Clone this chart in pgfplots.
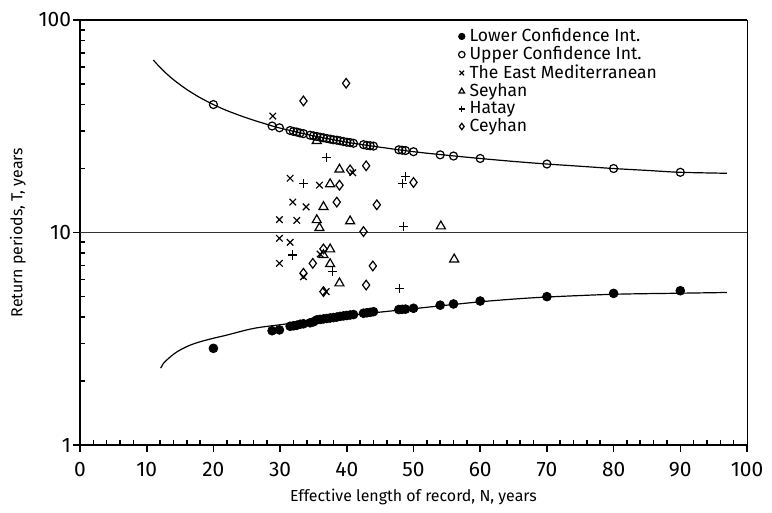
\documentclass[border=0pt]{standalone}
\usepackage{pgfplots}
\pgfplotsset{compat=1.18}
\usepackage{fontspec}
\setmainfont{Fira Sans}
\begin{document}
\begin{tikzpicture}
\useasboundingbox (-40bp,-34bp) rectangle (346bp,222.5bp);
\begin{axis}[
  at={(0,0)}, anchor=south west,
  scale only axis, width=333.5bp, height=212.5bp,
  xmin=0, xmax=100, ymin=1, ymax=100, ymode=log,
  xtick={0,10,...,100}, minor x tick num=4,
  ytick={1,10,100}, yticklabels={1,10,100},
  axis y line*=left, axis x line*=box,
  xtick pos=bottom,
  axis line style={line width=1.1bp},
  tick style={line width=0.8bp, black},
  tick align=inside, major tick length=-3.5bp, minor tick length=2.5bp,
  /pgf/number format/assume math mode=true,
  tick label style={font=\fontsize{10.5}{11}\selectfont},
  xticklabel style={yshift=-5bp},
  yticklabel style={xshift=-1bp},
  label style={font=\fontsize{8}{9}\selectfont},
  xlabel={Effective length of record, N, years},
  ylabel={Return periods, T, years},
  xlabel style={at={(axis description cs:0.5,-0.122)}, anchor=center},
  ylabel style={at={(axis description cs:-0.093,0.5)}, anchor=center},
  legend style={at={(rel axis cs:0.567,0.985)}, anchor=north west, draw=none, fill=none,
    font=\fontsize{8.8}{9}\selectfont, row sep=-0.6bp, column sep=1.5bp, inner sep=0pt,
    nodes={inner sep=0.8bp}},
  legend cell align=left,
  legend image code/.code={\draw[#1, mark size=1.6bp] plot coordinates {(0,0)};},
  after end axis/.code={\draw[line width=0.5bp] (rel axis cs:1,0) -- (rel axis cs:1,1);},
]
% Lower confidence points
\addplot[only marks, mark=*, mark size=2.2bp, black] coordinates {
(20,2.85)(28.8,3.45)(29.9,3.48)(31.5,3.62)(32,3.64)(32.5,3.66)(33,3.70)(33.5,3.72)
(34.5,3.76)(35,3.80)(35.5,3.88)(36,3.90)(36.5,3.92)(37,3.94)(37.5,3.96)(38,3.98)
(38.5,4.00)(39,4.03)(39.5,4.05)(40,4.07)(40.5,4.09)(41,4.11)(42.5,4.17)(43,4.19)
(43.5,4.21)(44,4.24)(47.8,4.34)(48.3,4.35)(48.8,4.36)(50,4.40)(54,4.55)(56,4.61)
(60,4.76)(70,4.99)(80,5.17)(90,5.32)};
\addlegendentry{Lower Confidence Int.}
% Upper confidence points
\addplot[only marks, mark=o, mark size=2bp, black, line width=0.6bp] coordinates {
(20,40.0)(28.8,31.7)(29.9,31.1)(31.5,30.2)(32,29.9)(32.5,29.7)(33,29.4)(33.5,29.2)
(34.5,28.7)(35,28.5)(35.5,28.3)(36,28.1)(36.5,27.9)(37,27.7)(37.5,27.5)(38,27.3)
(38.5,27.2)(39,27.0)(39.5,26.8)(40,26.6)(40.5,26.5)(41,26.3)(42.5,25.9)(43,25.7)
(43.5,25.6)(44,25.5)(47.8,24.5)(48.3,24.4)(48.8,24.3)(50,24.0)(54,23.2)(56,22.9)
(60,22.3)(70,21.0)(80,20.0)(90,19.2)};
\addlegendentry{Upper Confidence Int.}
% The East Mediterranean
\addplot[only marks, mark=x, mark size=2.3bp, black, line width=0.6bp] coordinates {
(28.9,35.3)(31.5,18.0)(35.9,16.7)(31.9,13.9)(33.9,13.2)(29.9,11.5)(32.5,11.4)
(29.9,9.39)(31.5,8.99)(29.9,7.16)(40.9,19.1)(36.0,7.92)(33.5,6.19)(36.9,5.27)};
\addlegendentry{The East Mediterranean}
% Seyhan
\addplot[only marks, mark=triangle, mark size=2.6bp, black, line width=0.6bp] coordinates {
(35.5,27.0)(38.9,19.8)(37.5,16.9)(36.5,13.2)(35.5,11.45)(35.9,10.5)(40.5,11.3)
(54.1,10.7)(37.5,8.34)(36.5,7.84)(37.5,7.11)(56.1,7.48)(38.9,5.77)};
\addlegendentry{Seyhan}
% Hatay
\addplot[only marks, mark=+, mark size=2.3bp, black, line width=0.6bp] coordinates {
(36.9,22.6)(33.5,17.0)(48.8,18.4)(48.4,17.0)(48.5,10.7)(31.9,7.84)(37.9,6.54)(47.9,5.46)};
\addlegendentry{Hatay}
% Ceyhan
\addplot[only marks, mark=diamond, mark size=2.4bp, black, line width=0.6bp] coordinates {
(39.9,50.4)(33.5,41.6)(42.9,20.6)(40.5,19.7)(38.9,16.7)(50.0,17.2)(38.5,13.9)
(44.5,13.5)(42.5,10.1)(36.5,8.37)(34.9,7.16)(43.9,6.96)(33.5,6.43)(42.9,5.66)(36.5,5.27)};
\addlegendentry{Ceyhan}
% curves
\addplot[black, line width=0.6bp, smooth, forget plot] coordinates {
(11,64.8)(11.5,62.2)(12,59.9)(13,55.8)(14,52.4)(15,49.6)(16,47.1)(17,45.0)(18,43.1)
(20,40.0)(22,37.5)(25,34.6)(28,32.3)(30,31.0)(35,28.5)(40,26.6)(45,25.2)(50,24.0)
(55,23.1)(60,22.3)(65,21.6)(70,21.0)(75,20.5)(80,20.0)(85,19.6)(90,19.2)(97,19.0)};
\addplot[black, line width=0.6bp, smooth, forget plot] coordinates {
(12.1,2.30)(12.5,2.42)(13,2.51)(14,2.67)(15,2.80)(16.5,2.95)(18,3.06)(20,3.18)
(22,3.29)(25,3.48)(27,3.58)(30,3.68)(35,3.87)(40,4.05)(45,4.22)(50,4.38)(55,4.55)
(60,4.72)(65,4.86)(70,4.97)(80,5.12)(90,5.18)(97,5.22)};
\addplot[black!80, line width=0.7bp, forget plot] coordinates {(0,10)(100,10)};
\end{axis}
\end{tikzpicture}
\end{document}
